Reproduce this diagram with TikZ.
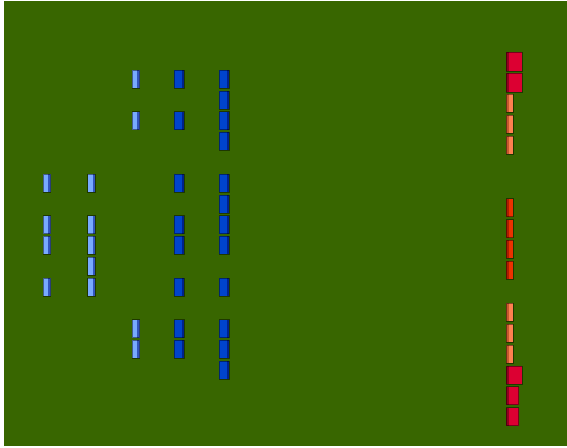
\documentclass[tikz,border=0pt]{standalone}
\definecolor{bg}{RGB}{56,102,0}
\definecolor{lbc}{RGB}{120,170,255}
\definecolor{lbd}{RGB}{50,85,190}
\definecolor{dbc}{RGB}{0,68,204}
\definecolor{dbd}{RGB}{0,34,140}
\definecolor{rc}{RGB}{220,0,50}
\definecolor{rd}{RGB}{145,0,30}
\definecolor{oc}{RGB}{255,128,80}
\definecolor{od}{RGB}{200,90,45}
\definecolor{vc}{RGB}{235,50,0}
\definecolor{vd}{RGB}{175,30,0}
\begin{document}
\begin{tikzpicture}[x=1pt,y=-1pt,
  box/.style={anchor=north west, inner sep=0pt, outer sep=0pt, draw=black, draw opacity=0.45, line width=0.6pt, minimum height=18pt},
  rstrip/.style={path picture={\fill[#1] ([xshift=-2.2pt]path picture bounding box.north east) rectangle (path picture bounding box.south east);}},
  lstrip/.style={path picture={\fill[#1] (path picture bounding box.north west) rectangle ([xshift=2.5pt]path picture bounding box.south west);}},
  lbbox/.style={box, fill=lbc, minimum width=7.5pt, rstrip=lbd},
  dbbox/.style={box, fill=dbc, minimum width=10pt, rstrip=dbd},
  obox/.style={box, fill=oc, minimum width=7pt, lstrip=od},
  vbox/.style={box, fill=vc, minimum width=7pt, lstrip=vd},
  rbig/.style={box, fill=rc, minimum width=16.3pt, minimum height=19pt, lstrip=rd},
  rmed/.style={box, fill=rc, minimum width=12.7pt, lstrip=rd}
]
\useasboundingbox (0,0) rectangle (567,447);
\fill[white] (0,0) rectangle (567,447);
\fill[bg] (4,1) rectangle (567,445.5);
% blue block (row pitch 20.8, first row top 70)
\foreach \r in {6,8,9,11} \node[lbbox] (a\r) at (43,{70+20.8*(\r-1)}) {};
\foreach \r in {6,8,9,10,11} \node[lbbox] (b\r) at (87.5,{70+20.8*(\r-1)}) {};
\foreach \r in {1,3,13,14} \node[lbbox] (c\r) at (132,{70+20.8*(\r-1)}) {};
\foreach \r in {1,3,6,8,9,11,13,14} \node[dbbox] (d\r) at (174.3,{70+20.8*(\r-1)}) {};
\foreach \r in {1,2,3,4,6,7,8,9,11,13,14,15} \node[dbbox] (e\r) at (219,{70+20.8*(\r-1)}) {};
% red column (row pitch 20.9, first row top 52.3)
\foreach \r in {1,2} \node[rbig] (r\r) at (506,{52.3+20.9*(\r-1)}) {};
\foreach \r in {3,4,5,13,14,15} \node[obox] (r\r) at (506,{52.3+20.9*(\r-1)}) {};
\foreach \r in {8,9,10,11} \node[vbox] (r\r) at (506,{52.3+20.9*(\r-1)}) {};
\node[rbig, minimum height=18pt] (r16) at (506,{52.3+20.9*15}) {};
\foreach \r in {17,18} \node[rmed] (r\r) at (506,{52.3+20.9*(\r-1)}) {};
\end{tikzpicture}
\end{document}
